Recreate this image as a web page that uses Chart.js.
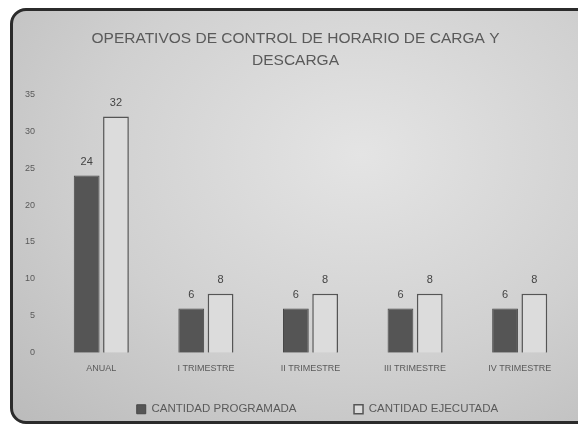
<!DOCTYPE html>
<html>
<head>
<meta charset="utf-8">
<script src="https://cdn.jsdelivr.net/npm/chart.js@4"></script>
<style>
  html, body { margin: 0; padding: 0; background: #fff; width: 578px; height: 426px; overflow: hidden; }
  #frame {
    position: absolute; left: 10px; top: 8px; width: 580px; height: 410px;
    border: 3px solid #2b2b2b; border-radius: 16px; overflow: hidden;
    background: radial-gradient(ellipse at 60% 35%, #e4e4e4 0%, #d0d0d0 55%, #bbbbbb 100%);
  }
  #chart { display: block; }
</style>
</head>
<body>
<div id="frame"><canvas id="chart" width="580" height="410"></canvas></div>
<script>
// categories and values
const categorias = ['ANUAL', 'I TRIMESTRE', 'II TRIMESTRE', 'III TRIMESTRE', 'IV TRIMESTRE'];
const programada = [24, 6, 6, 6, 6];
const ejecutada = [32, 8, 8, 8, 8];
const tituloLineas = ['OPERATIVOS DE CONTROL DE HORARIO DE CARGA Y', 'DESCARGA'];

const textColor = '#5a5a5a';
const fuente = '"Liberation Sans", sans-serif';

// values above each bar
const valueLabels = {
  id: 'valueLabels',
  afterDatasetsDraw(chart) {
    const ctx = chart.ctx;
    ctx.save();
    ctx.fillStyle = '#444';
    ctx.font = '11px ' + fuente;
    ctx.textAlign = 'center';
    ctx.textBaseline = 'bottom';
    chart.data.datasets.forEach((ds, i) => {
      chart.getDatasetMeta(i).data.forEach((bar, j) => {
        ctx.fillText(ds.data[j], bar.x, bar.y - 8);
      });
    });
    ctx.restore();
  }
};

// legend sits a bit right of centre and lower in the original
const shiftLegend = {
  id: 'shiftLegend',
  afterLayout(chart) {
    chart.legend.left += 22;
    chart.legend.right += 22;
    chart.legend.top += 4;
    chart.legend.bottom += 4;
  }
};

const data = {
  labels: categorias,
  datasets: [{
    label: 'CANTIDAD PROGRAMADA',
    data: programada,
    backgroundColor: '#555555',
    borderColor: '#474747',
    borderWidth: 1
  },
  {
    label: 'CANTIDAD EJECUTADA',
    data: ejecutada,
    backgroundColor: '#dcdcdc',
    borderColor: '#555',
    borderWidth: 1.5
  }]
};

const config = {
  type: 'bar',
  data: data,
  options: {
    responsive: false,
    animation: false,
    layout: { padding: { left: 6, right: 21, top: 0, bottom: 0 } },
    datasets: {
      bar: { categoryPercentage: 0.56, barPercentage: 0.88 }
    },
    plugins: {
      title: {
        display: true,
        text: tituloLineas,
        color: textColor,
        font: { family: fuente, size: 15.5, weight: 'normal', lineHeight: 1.4 },
        padding: { top: 17, bottom: 23 }
      },
      legend: {
        position: 'bottom',
        labels: {
          color: textColor,
          boxWidth: 9,
          boxHeight: 9,
          padding: 0,
          font: { family: fuente, size: 11.5 },
          generateLabels(chart) {
            const items = Chart.defaults.plugins.legend.labels.generateLabels(chart);
            items[0].text += '\u2003\u2003\u2003\u2003\u2003';
            return items;
          }
        }
      },
      tooltip: { enabled: false }
    },
    scales: {
      x: {
        grid: { display: false },
        border: { display: false },
        ticks: { color: textColor, padding: 2, font: { family: fuente, size: 9 } },
        afterFit(scale) { scale.height += 24; }
      },
      y: {
        min: 0,
        max: 35,
        ticks: { stepSize: 5, color: textColor, padding: 6, font: { family: fuente, size: 9 } },
        grid: { display: false },
        border: { display: false }
      }
    }
  },
  plugins: [valueLabels, shiftLegend]
};

window.onload = function() {
  var ctx = document.getElementById('chart').getContext('2d');
  window.myBar = new Chart(ctx, config);
};
</script>
</body>
</html>
